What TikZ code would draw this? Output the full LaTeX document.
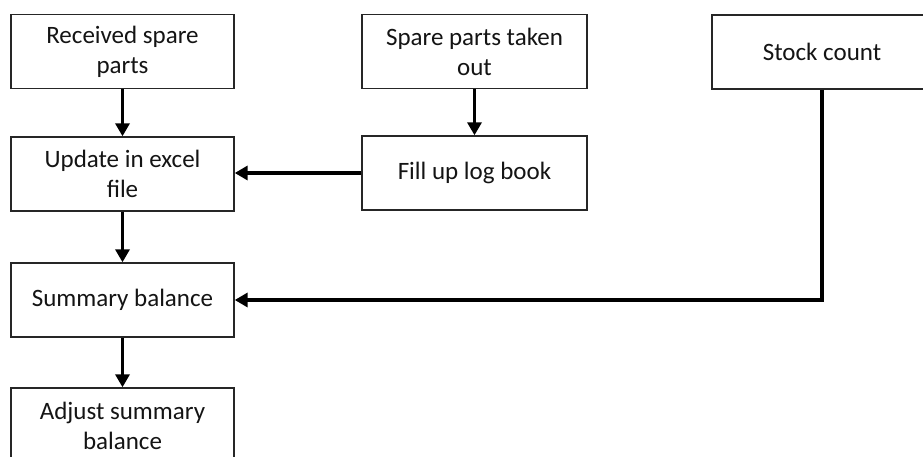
\documentclass[tikz,border=0pt]{standalone}
\usepackage{fontspec}
\setmainfont{Carlito}
\usetikzlibrary{arrows.meta}
\begin{document}
\begin{tikzpicture}[x=1pt,y=-1pt,
  box/.style={draw=black!85, line width=1.4pt, minimum width=223pt, minimum height=74pt,
    inner sep=0pt, align=center, font=\fontsize{25}{30}\selectfont, text=black!92},
  flow/.style={line width=3.5pt, -{Triangle[length=13pt,width=14pt]}}]
\useasboundingbox (0,0) rectangle (923,457);
\fill[white] (0,0) rectangle (923,457);
\clip (0,0) rectangle (923,457);
\node[box] (recv) at (122.5,51.5) {Received spare\\parts};
\node[box] (upd) at (122.5,174) {Update in excel\\file};
\node[box] (sum) at (122.5,300) {Summary balance};
\node[box, minimum height=75pt] (adj) at (122.5,425.5) {Adjust summary\\balance};
\node[box, minimum width=225pt] (out) at (474.5,51.5) {Spare parts taken\\out};
\node[box, minimum width=225pt] (log) at (474.5,173) {Fill up log book};
\node[box, minimum width=220pt] (stock) at (822,52) {Stock count};
\draw[flow] (recv) -- (upd);
\draw[flow] (upd) -- (sum);
\draw[flow] (sum) -- (adj);
\draw[flow] (out) -- (log);
\draw[flow] (log.west) -- (log.west -| upd.east);
\draw[flow] (stock.south) |- (sum.east);
\end{tikzpicture}
\end{document}
